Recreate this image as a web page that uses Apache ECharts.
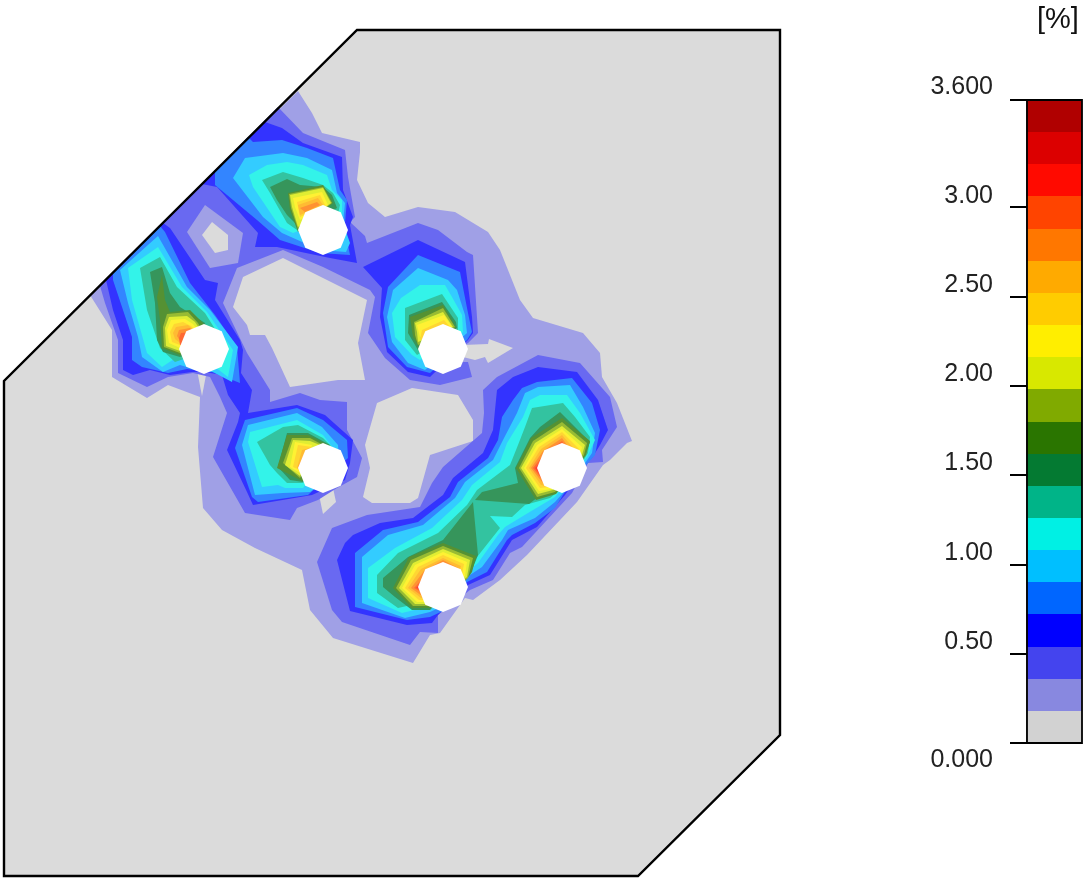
<!DOCTYPE html>
<html><head><meta charset="utf-8">
<style>html,body{margin:0;padding:0;background:#fff}#c{width:1085px;height:881px}</style>
<script src="https://cdn.jsdelivr.net/npm/echarts@6/dist/echarts.min.js"></script>
</head><body><div id="c"></div>
<script>
// colour scale
const bandEdges=[0,0.18,0.36,0.54,0.72,0.9,1.08,1.26,1.44,1.62,1.8,1.98,2.16,2.34,2.52,2.7,2.88,3.06,3.24,3.42,3.6];
const bandColors=['#d2d2d2','#8888e0','#4444ee','#0000ff','#0066ff','#00bfff','#00f0e4','#00b488','#047a32','#2a7500','#80aa00','#d8e800','#ffee00','#ffcc00','#ffaa00','#ff7700','#ff4400','#ff0a00','#dc0000','#b00000'];
const tickValues=[0,0.5,1,1.5,2,2.5,3,3.6];
const tickLabels=['0.000','0.50','1.00','1.50','2.00','2.50','3.00','3.600'];
const unitLabel='[%]';
// plate geometry (plot units)
const plate=[[357,30],[780,30],[780,735],[638,876],[4,876],[4,381]];
const holeCentres=[[323,230],[204,349],[443,349],[323,468],[562,468],[443,587]];
const holeRadius=25;
// contour regions, each list holds outlines of one band
const band1=[[[298,91],[312,113],[322,133],[360,142],[360,152],[357,180],[368,203],[385,217],[418,207],[455,212],[488,232],[500,250],[520,300],[533,318],[583,333],[600,353],[602,377],[617,403],[632,441],[627,443],[610,460],[603,465],[577,502],[527,555],[500,580],[473,600],[465,598],[440,633],[430,635],[413,663],[333,638],[310,610],[302,570],[255,548],[222,530],[203,508],[198,447],[200,397],[168,385],[147,398],[112,377],[112,330],[90,295]]];
const holes0=[
[[233,307],[243,277],[283,258],[323,278],[367,300],[358,343],[365,380],[338,380],[290,387],[272,348],[265,335],[250,335],[247,325]],
[[377,403],[412,388],[458,395],[473,420],[473,441],[430,455],[418,498],[410,503],[372,503],[363,497],[370,468],[365,445]],
[[463,345],[488,344],[489,339],[513,348],[488,363],[485,357],[475,360],[463,357]],
[[318,490],[333,488],[336,502],[323,514]],
[[197,370],[207,370],[202,396]]];
const band2=[
[[278,107],[303,133],[345,150],[348,177],[355,217],[350,222],[365,236],[367,243],[418,223],[438,230],[467,252],[473,255],[478,333],[468,343],[455,350],[462,362],[468,362],[472,377],[440,385],[410,380],[385,358],[368,333],[375,297],[370,290],[323,267],[283,250],[237,268],[223,303],[247,353],[270,390],[270,402],[300,393],[320,400],[347,402],[347,430],[362,458],[357,477],[337,488],[318,500],[297,508],[290,520],[245,513],[213,457],[227,413],[220,397],[210,377],[193,373],[168,377],[147,387],[118,373],[118,340],[105,303],[100,286]],
[[483,390],[497,377],[538,355],[580,363],[610,397],[617,427],[602,450],[603,462],[588,463],[572,493],[522,547],[510,553],[493,580],[470,590],[438,615],[438,633],[420,632],[410,645],[342,622],[332,610],[317,562],[332,528],[367,515],[420,507],[432,483],[443,467],[482,433],[484,413]]];
const ringBand1=[[[205,205],[243,233],[238,263],[210,268],[187,232]]];
const ringHole0=[[[212,222],[228,235],[228,250],[215,253],[202,235]]];
const band3=[
[[497,390],[513,377],[538,367],[577,372],[598,400],[608,430],[600,445],[592,458],[588,462],[565,495],[537,527],[512,540],[490,575],[468,585],[438,615],[432,623],[407,625],[350,611],[337,560],[345,543],[353,535],[380,523],[413,518],[443,495],[453,478],[483,453],[493,430]],
[[202,184],[265,122],[282,128],[303,143],[342,157],[343,190],[353,217],[350,225],[357,263],[330,258],[277,247],[255,247],[258,233],[217,187]],
[[163,223],[170,228],[205,280],[218,283],[215,300],[240,340],[243,350],[241,373],[252,390],[248,413],[297,405],[325,415],[353,440],[350,463],[345,480],[312,495],[253,505],[247,492],[227,450],[238,422],[240,413],[228,395],[222,375],[205,372],[192,372],[170,375],[150,370],[133,375],[123,370],[123,340],[113,310],[106,280]],
[[363,267],[418,240],[465,262],[472,317],[473,333],[468,340],[430,377],[408,372],[387,352],[380,317],[382,288]]];
const band4=[
[[502,417],[513,400],[522,388],[537,382],[572,378],[592,403],[600,430],[595,455],[575,478],[563,495],[555,508],[535,523],[512,535],[507,540],[487,572],[467,582],[445,610],[430,617],[407,620],[355,607],[355,553],[383,530],[418,522],[450,497],[458,482],[488,458],[498,440]],
[[215,171],[248,137],[253,142],[282,140],[307,148],[333,158],[340,190],[347,200],[345,223],[347,240],[350,255],[320,253],[280,240],[257,220],[215,185]],
[[113,273],[160,226],[165,232],[190,283],[215,315],[237,347],[240,383],[212,372],[187,369],[168,373],[142,367],[132,360],[132,337],[122,307],[113,280]],
[[388,287],[418,255],[460,272],[468,313],[472,332],[467,340],[430,373],[407,367],[388,347],[383,313]],
[[235,448],[245,420],[297,408],[323,420],[347,440],[348,458],[308,495],[258,502],[252,497]]];
const band5=[
[[517,413],[525,393],[538,387],[570,385],[583,407],[595,433],[592,453],[570,485],[555,502],[535,518],[508,530],[502,540],[482,567],[467,577],[445,605],[430,612],[405,618],[362,603],[362,557],[388,535],[423,525],[455,498],[465,482],[493,460],[503,440]],
[[233,178],[245,158],[283,153],[307,158],[332,170],[337,193],[345,203],[343,223],[350,243],[346,252],[320,250],[282,233],[263,217]],
[[120,270],[158,236],[187,287],[210,310],[238,347],[232,382],[213,372],[190,368],[180,365],[163,372],[142,357],[138,337],[128,303]],
[[393,290],[418,268],[448,280],[457,290],[465,315],[467,333],[425,370],[408,363],[392,342],[387,317]],
[[242,445],[248,425],[297,413],[322,427],[338,445],[340,470],[310,492],[283,493],[255,495]]];
const band6=[
[[523,417],[530,400],[540,395],[567,395],[580,413],[595,440],[587,457],[555,497],[528,513],[505,527],[498,535],[478,563],[467,572],[445,600],[423,608],[402,613],[368,598],[368,568],[395,548],[432,528],[462,500],[472,485],[500,462],[507,443]],
[[249,175],[267,165],[287,162],[303,165],[327,175],[332,190],[342,200],[342,215],[293,233],[280,227],[253,187]],
[[128,268],[158,247],[182,287],[207,312],[233,350],[228,377],[215,367],[177,357],[162,367],[147,353],[132,300]],
[[401,298],[420,285],[445,285],[452,297],[462,315],[463,332],[420,360],[412,355],[395,337],[392,313]],
[[248,442],[250,432],[297,420],[323,435],[333,448],[303,488],[285,488],[278,485],[262,487]]];
const band7=[
[[525,427],[532,408],[563,403],[575,417],[590,437],[588,453],[570,482],[550,498],[525,505],[512,517],[490,516],[500,528],[477,557],[467,568],[445,595],[420,603],[398,608],[377,593],[377,575],[398,553],[438,533],[467,505],[477,490],[510,465],[518,445]],
[[262,180],[283,172],[303,178],[323,185],[333,193],[340,205],[338,214],[297,230],[287,223],[270,193]],
[[140,268],[160,257],[177,287],[205,313],[225,345],[175,362],[160,348],[147,310]],
[[405,308],[442,294],[458,318],[458,330],[417,355],[405,340]],
[[257,442],[283,427],[298,425],[323,438],[333,448],[303,483],[287,483],[277,473],[270,465]]];
const band8=[
[[383,578],[408,557],[443,540],[473,502],[478,555],[470,575],[450,590],[430,610],[412,610],[395,597],[383,587]],
[[515,468],[530,438],[540,427],[560,412],[580,432],[590,442],[585,455],[560,480],[529,504],[475,500],[482,492],[518,483]],
[[270,187],[287,179],[300,185],[323,187],[332,195],[337,208],[300,228],[287,215],[277,200]],
[[150,272],[162,267],[170,293],[180,307],[205,323],[210,345],[180,357],[163,352],[157,340],[155,303]],
[[409,315],[442,302],[456,322],[457,328],[418,350],[408,333]],
[[278,467],[287,433],[308,433],[330,445],[303,482],[290,480]]];
const band9=[
[[516,468],[531,438],[562,418],[590,441],[586,455],[556,494],[536,500]],
[[393,588],[409,557],[443,543],[476,556],[472,572],[462,585],[430,608],[412,608]],
[[288,193],[323,185],[333,203],[298,232],[290,210]],
[[162,275],[165,300],[170,312],[190,310],[203,323],[210,345],[180,355],[162,348],[160,320],[157,297]],
[[410,317],[443,305],[456,328],[420,348],[413,337]],
[[277,468],[287,435],[308,435],[328,445],[302,481]]];
const band10=[
[[519,468],[533,441],[562,422],[587,443],[584,455],[555,492],[537,497]],
[[396,588],[411,560],[443,546],[473,558],[468,578],[430,606],[413,606]],
[[289,194],[323,187],[332,203],[298,229],[291,208]],
[[167,314],[188,312],[198,323],[210,345],[180,353],[164,347],[163,327]],
[[414,322],[443,308],[455,327],[418,345],[415,335]],
[[283,463],[292,438],[310,438],[323,445],[300,478]]];
const band11=[
[[169,317],[187,316],[195,322],[210,345],[180,351],[166,346],[165,328]],
[[521,468],[535,443],[562,426],[585,445],[582,455],[553,490],[538,494]],
[[399,588],[413,563],[443,549],[470,560],[467,577],[430,604],[415,604]],
[[290,195],[323,188],[331,203],[298,227],[292,207]],
[[415,323],[443,312],[453,327],[418,342],[417,332]],
[[285,465],[293,440],[310,441],[320,445],[300,476]]];
const band12=[
[[524,468],[537,445],[562,429],[582,447],[580,455],[551,489],[539,491]],
[[402,588],[415,565],[443,552],[467,562],[465,576],[430,602],[417,602]],
[[293,198],[322,192],[328,205],[300,220],[295,207]],
[[171,320],[185,319],[193,324],[210,345],[180,348],[169,343],[167,330]],
[[417,325],[444,315],[452,327],[420,337]],
[[290,467],[295,442],[312,445],[300,473]]];
const band13=[
[[526,468],[539,447],[562,432],[579,449],[577,455],[549,487],[540,488]],
[[405,588],[418,567],[443,555],[464,564],[462,575],[430,600],[419,600]],
[[297,202],[320,195],[325,205],[300,217]],
[[174,324],[183,322],[191,326],[210,345],[180,345],[172,342],[170,332]],
[[422,330],[444,320],[450,327],[420,340]],
[[293,467],[298,445],[312,447],[300,470]]];
const band14=[
[[529,468],[541,449],[562,435],[576,451],[570,455],[547,486],[541,485]],
[[408,588],[421,569],[443,558],[461,566],[458,575],[430,598],[421,598]],
[[298,205],[318,198],[323,205],[300,215]],
[[176,327],[188,325],[210,345],[180,343],[175,339],[173,333]],
[[425,332],[442,325],[447,327],[425,340]],
[[297,468],[302,450],[310,448],[300,470]]];
const band15=[
[[531,468],[543,451],[562,438],[572,452],[565,455],[545,484],[542,482]],
[[411,588],[424,571],[443,560],[458,568],[455,575],[430,596],[422,596]],
[[300,208],[317,202],[320,205],[305,212]],
[[179,330],[190,328],[210,345],[180,341],[177,336]],
[[298,467],[305,452],[310,460]]];
const band16=[
[[533,468],[545,453],[562,441],[568,450],[560,460],[543,480],[541,478]],
[[414,588],[427,574],[443,563],[455,570],[450,580],[430,594],[423,593]],
[[181,333],[192,332],[205,345],[180,345],[179,338]]];
const band17=[
[[535,468],[547,456],[560,444],[566,447],[560,460],[541,477],[538,472]],
[[416,588],[429,576],[441,566],[450,575],[440,590],[428,592],[423,590]]];
const paintOrder=[[1,band1],[0,holes0],[2,band2],[1,ringBand1],[0,ringHole0],[3,band3],[4,band4],[5,band5],[6,band6],[7,band7],[8,band8],[9,band9],[10,band10],[11,band11],[12,band12],[13,band13],[14,band14],[15,band15],[16,band16],[17,band17]];

function tint(hex){ // plot shading is the scale colour at 80 % over white
  const n=parseInt(hex.slice(1),16),f=c=>Math.round(c*0.8+255*0.2);
  return 'rgb('+f(n>>16&255)+','+f(n>>8&255)+','+f(n&255)+')';
}
const patches=[];
paintOrder.forEach(([b,list])=>list.forEach(p=>patches.push({b,p})));
const chart=echarts.init(document.getElementById('c'),null,{renderer:'canvas'});
const polyItem=(pts,api,style)=>({type:'polygon',shape:{points:pts.map(q=>api.coord(q))},style,silent:true});
chart.setOption({
  animation:false,backgroundColor:'#fff',
  title:{text:unitLabel,left:1032,top:0,textStyle:{fontFamily:'Liberation Sans',fontSize:29,fontWeight:'normal',color:'#111'}},
  grid:[{left:0,top:0,width:1085,height:881},{left:1027,top:100,width:55,height:643}],
  xAxis:[{gridIndex:0,type:'value',min:0,max:1085,show:false},{gridIndex:1,type:'value',min:0,max:1,show:false}],
  yAxis:[{gridIndex:0,type:'value',min:0,max:881,inverse:true,show:false},
    {gridIndex:1,type:'value',min:0,max:3.6,position:'left',splitLine:{show:false},
     axisLine:{show:true,lineStyle:{color:'#444',width:1.5}},
     axisTick:{show:true,length:17,lineStyle:{color:'#000',width:2},customValues:tickValues},
     axisLabel:{show:true,margin:34,customValues:tickValues,showMinLabel:true,showMaxLabel:true,hideOverlap:false,
       formatter:(v)=>{const i=tickValues.findIndex(t=>Math.abs(t-v)<1e-6);const s=tickLabels[i];
         return i===0?'{low|'+s+'}':(i===tickValues.length-1?'{top|'+s+'}':'{mid|'+s+'}');},
       rich:{low:{fontFamily:'Liberation Sans',fontSize:25,color:'#222',padding:[34,0,0,0]},
             top:{fontFamily:'Liberation Sans',fontSize:25,color:'#222',padding:[0,0,26,0]},
             mid:{fontFamily:'Liberation Sans',fontSize:25,color:'#222',padding:[0,0,23,0]}}}}],
  series:[
   {type:'custom',xAxisIndex:0,yAxisIndex:0,clip:false,silent:true,z:1,data:[0],encode:{x:0,y:0},
    renderItem:(_,api)=>polyItem(plate,api,{fill:tint(bandColors[0])})},
   {type:'custom',xAxisIndex:0,yAxisIndex:0,clip:false,silent:true,z:2,data:patches.map((_,i)=>i),
    renderItem:(pa,api)=>{const m=patches[pa.dataIndex];return polyItem(m.p,api,{fill:tint(bandColors[m.b])});}},
   {type:'custom',xAxisIndex:0,yAxisIndex:0,clip:false,silent:true,z:3,data:holeCentres,
    renderItem:(pa,api)=>{const c=[api.value(0),api.value(1)],pts=[];
      for(const d of [[0,-1],[.71,-.71],[1,0],[.71,.71],[0,1],[-.71,.71],[-1,0],[-.71,-.71]])pts.push([c[0]+d[0]*holeRadius,c[1]+d[1]*holeRadius]);
      return polyItem(pts,api,{fill:'#fff'});}},
   {type:'custom',xAxisIndex:0,yAxisIndex:0,clip:false,silent:true,z:4,data:[0],
    renderItem:(_,api)=>polyItem(plate,api,{fill:'none',stroke:'#000',lineWidth:2.4,lineJoin:'miter'})},
   {type:'custom',xAxisIndex:1,yAxisIndex:1,silent:true,z:2,data:bandColors.map((_,i)=>[0,1,bandEdges[i],bandEdges[i+1]]),
    renderItem:(pa,api)=>{const a=api.coord([0,api.value(3)]),b=api.coord([1,api.value(2)]);
      const t=Math.round(a[1]),u=Math.round(b[1]);
      return {type:'rect',shape:{x:a[0],y:t,width:b[0]-a[0],height:u-t},style:{fill:bandColors[pa.dataIndex]},silent:true};}},
   {type:'custom',xAxisIndex:1,yAxisIndex:1,silent:true,z:3,clip:false,data:[[0,1,0,3.6]],
    renderItem:(pa,api)=>{const a=api.coord([0,3.6]),b=api.coord([1,0]);
      return {type:'rect',shape:{x:a[0],y:a[1],width:b[0]-a[0],height:b[1]-a[1]},style:{fill:'none',stroke:'#000',lineWidth:1.8},silent:true};}}
  ]
});
</script></body></html>
